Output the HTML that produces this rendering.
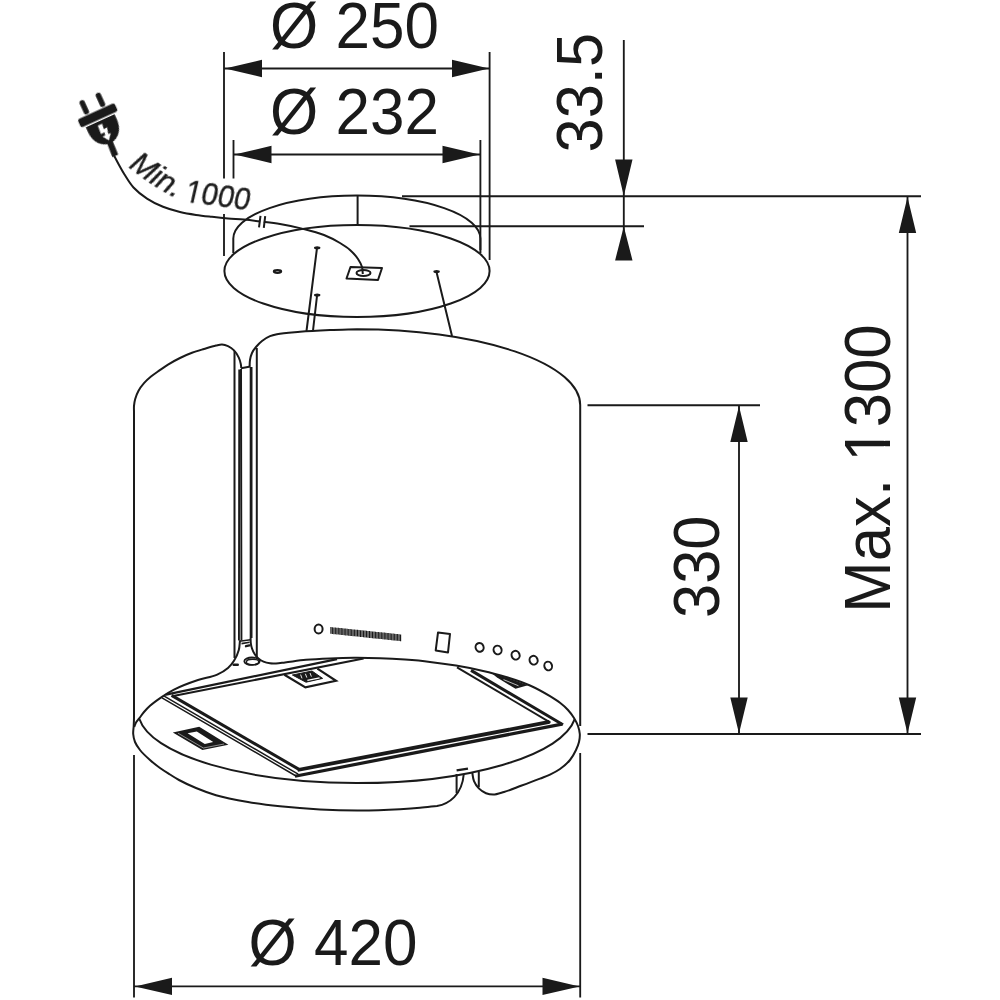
<!DOCTYPE html>
<html>
<head>
<meta charset="utf-8">
<title>Ø 420 hood dimensions</title>
<style>
html,body{margin:0;padding:0;background:#fff;}
body{width:1000px;height:1000px;overflow:hidden;}
svg{display:block;}
text{font-family:"Liberation Sans",sans-serif;fill:#1a1a1a;}
.l{fill:none;stroke:#1a1a1a;stroke-width:2;stroke-linecap:butt;stroke-linejoin:round;}
.t{fill:none;stroke:#1a1a1a;stroke-width:1.2;stroke-linecap:butt;stroke-linejoin:miter;}
.k{fill:none;stroke:#1a1a1a;stroke-width:2.6;stroke-linecap:butt;stroke-linejoin:miter;}
.d{fill:none;stroke:#1a1a1a;stroke-width:1.85;}
.a{fill:#1a1a1a;stroke:none;}
.big{font-size:62px;}
.min{font-size:28.5px;font-style:italic;stroke:#1a1a1a;stroke-width:0.35;}
.min2{font-size:28.5px;stroke:#1a1a1a;stroke-width:0.35;}
</style>
</head>
<body>
<svg width="1000" height="1000" viewBox="0 0 1000 1000">
<rect width="1000" height="1000" fill="#fff"/>

<!-- DIMENSIONS -->
<g id="dims">
<!-- Ø 250 -->
<text class="big" transform="translate(270 47.6) scale(1 1.04)">Ø 250</text>
<path class="d" d="M224 52V178.5M224 214V256M489.6 52V260M224 68.5H490"/>
<path class="a" d="M225 68.5L262 59.8V77.2ZM489 68.5L452 59.8V77.2Z"/>
<!-- Ø 232 -->
<text class="big" transform="translate(270 133.6) scale(1 1.04)">Ø 232</text>
<path class="d" d="M233.5 140V178.5M480.4 140V250M233 154.5H480"/>
<path class="a" d="M234.5 154.5L271.5 145.8V163.2ZM479.5 154.5L442.5 145.8V163.2Z"/>
<!-- 33.5 -->
<text class="big" transform="translate(601.7 152.4) rotate(-90) scale(0.99 1.055)">33.5</text>
<path class="d" d="M623.8 40V260M402 196.2H921M409.5 226.2H644"/>
<path class="a" d="M623.8 196L615.1 159.6H632.5ZM623.8 226.4L615.1 260.4H632.5Z"/>
<!-- Max 1300 -->
<g transform="translate(889.8 612.7) rotate(-90) scale(0.9964 1.055)"><text class="big">Max. 1300</text><path fill="#fff" d="M154.6 -5.6H167.1V1.4H154.6ZM172.65 -5.6H184.6V1.4H172.65Z"/></g>
<path class="d" d="M907.5 196V734M587.5 734H921"/>
<path class="a" d="M907.5 197L898.8 233H916.2ZM907.5 733.5L898.8 697.5H916.2Z"/>
<!-- 330 -->
<text class="big" transform="translate(719.4 617.9) rotate(-90) scale(0.99 1.055)">330</text>
<path class="d" d="M739 405V734M587.5 405.2H760"/>
<path class="a" d="M739 406L730.3 442H747.7ZM739 733.5L730.3 697.5H747.7Z"/>
<!-- Ø 420 -->
<text class="big" transform="translate(248.5 964.6) scale(1 1.04)">Ø 420</text>
<path class="d" d="M134 755V997.5M580.2 753V997.5M134 986.4H580"/>
<path class="a" d="M135 986.4L172 977.8V995ZM579.5 986.4L542.5 977.8V995Z"/>
</g>

<!-- CANOPY -->
<g id="canopy">
<ellipse class="l" cx="357" cy="271" rx="132.6" ry="46"/>
<path class="l" d="M233.3 253V238.5A123.55 43 0 0 1 480.4 238.5V253"/>
<path class="l" d="M357.6 195.6V226"/>
<ellipse class="l" cx="277.5" cy="271.5" rx="3.6" ry="1.3" style="stroke-width:2.2"/>
<ellipse class="a" cx="317.2" cy="247.8" rx="3.2" ry="1.5"/><ellipse class="a" cx="317.2" cy="295" rx="3.2" ry="1.5"/><ellipse class="a" cx="436.6" cy="271.4" rx="3.2" ry="1.5"/>
<path class="l" d="M317 248L306.5 331M317 296L313 330.5M436.5 272L452 336"/>
<path class="l" d="M350.5 267L382 268L378 280L346.5 278.5Z"/>
<ellipse class="l" cx="363.5" cy="273" rx="7" ry="3"/>
</g>

<!-- CABLE -->
<g id="cable">
<path class="l" d="M113.50 154.50C115.17 157.67 116.76 160.82 118.50 164.00C120.41 167.48 122.30 170.98 124.50 174.50C127.19 178.80 129.93 183.60 133.50 187.50C137.34 191.70 142.14 195.41 147.00 198.60C151.96 201.86 157.48 204.56 163.00 206.80C168.48 209.02 174.31 210.63 180.00 212.00C185.32 213.28 190.65 214.10 196.00 214.90C201.32 215.70 206.66 216.22 212.00 216.80C217.33 217.38 222.66 217.93 228.00 218.40C233.33 218.87 238.60 219.10 244.00 219.60C249.92 220.15 256.01 220.87 262.00 221.60C268.01 222.33 273.89 222.97 280.00 224.00C287.18 225.21 294.72 226.78 302.00 228.60C309.39 230.44 317.16 232.28 324.00 235.00C329.68 237.26 335.18 240.08 340.00 243.00C343.62 245.19 346.99 247.32 350.00 250.00C352.98 252.66 355.89 255.82 358.00 259.00C359.69 261.55 361.22 264.27 362.00 267.00C362.65 269.29 362.53 271.67 362.80 274.00"/>
<path stroke="#fff" stroke-width="3.4" fill="none" d="M260.2 221.2L263.8 221.9"/>
<path class="l" d="M260.5 215.8L259 227.4M265.2 216.2L263.8 227.8"/>
<path id="mp" fill="none" stroke="none" d="M0 0Q24 2.2 48 0L72 -2.2"/>
<text class="min" style="will-change:transform" transform="translate(128.2 166.8) rotate(34) scale(1.07 1.08)"><textPath href="#mp">Min.</textPath></text>
<g transform="translate(183.5 201.4) rotate(8) skewX(-5) scale(1.03 1.07)" style="will-change:transform"><text class="min2">1000</text><path fill="#fff" d="M0.8 -3H7V1.4H0.8ZM9.85 -3H15.6V1.4H9.85Z"/></g>
<g transform="translate(97.7 115.3) rotate(-24.5)">
<rect class="a" x="-20.2" y="-4.4" width="40.4" height="8.8" rx="2.2"/>
<rect class="a" x="-11.6" y="-20.6" width="5.4" height="15.2" rx="2.7"/>
<rect class="a" x="6.2" y="-20.6" width="5.4" height="15.2" rx="2.7"/>
<path class="a" d="M-15.8 5.9H15.8V11C15.8 22.5 9.5 30.5 0 30.5C-9.5 30.5-15.8 22.5-15.8 11Z"/>
<path class="a" d="M-3 28H3L2.4 44.3H-4Z"/>
<path fill="#fff" d="M-4.2 9.6H0.6L-0.2 15.2L3.6 14.8L1.8 21.4H4.6L-0.2 27.6L-4.4 21.4H-1.6L-0.8 18.2L-4.8 18.6Z"/>
</g>
</g>

<!-- BODY -->
<g id="body">
<path class="l" d="M249.60 366.50C249.73 364.33 249.64 362.16 250.00 360.00C250.39 357.66 250.99 355.17 252.00 353.00C253.00 350.84 254.46 348.89 256.00 347.00C257.74 344.86 259.77 342.75 262.00 341.00C264.40 339.12 267.25 337.36 270.00 336.20C272.28 335.23 274.40 334.77 277.00 334.20C283.18 332.85 292.09 332.45 300.00 331.80C309.63 331.01 320.13 330.54 330.00 330.10C339.11 329.69 348.00 329.50 357.00 329.20A223.2 75.8 0 0 1 580.2 405V726"/>
<path class="l" d="M134.00 430.00C134.00 426.67 134.00 423.24 134.00 420.00C134.00 417.26 134.00 414.58 134.00 412.00C134.00 409.87 133.82 407.88 134.00 405.80C134.19 403.55 134.57 401.26 135.20 399.00C135.94 396.33 137.02 393.54 138.40 391.00C139.90 388.25 141.90 385.60 144.00 383.20C146.10 380.80 148.51 378.67 151.00 376.60C153.66 374.39 156.64 372.42 159.50 370.40C162.31 368.42 164.99 366.46 168.00 364.60C171.73 362.29 175.93 359.99 180.00 358.00C183.93 356.07 187.94 354.32 192.00 352.80C195.94 351.33 199.99 350.20 204.00 349.00C207.99 347.80 212.36 346.38 216.00 345.60C218.12 345.15 220.02 344.51 222.00 344.60C224.02 344.69 226.11 345.34 228.00 346.20C230.14 347.18 232.28 348.66 234.00 350.40C235.95 352.37 237.63 355.10 238.80 357.60C239.76 359.66 240.38 361.97 240.80 364.00C241.08 365.38 241.13 366.67 241.30 368.00"/>
<path class="l" d="M134 428V702"/>
<path class="l" d="M134.00 700.00C134.00 703.33 134.00 706.76 134.00 710.00C134.00 712.74 134.05 715.33 134.00 718.00C133.95 720.67 133.83 723.33 133.70 726.00C133.57 728.67 132.99 731.36 133.20 734.00C133.41 736.69 133.97 739.46 135.00 742.00C136.14 744.82 138.00 747.42 140.00 750.00C142.71 753.49 146.53 756.91 150.00 760.00C153.22 762.87 156.57 765.53 160.00 768.00C163.25 770.34 166.69 772.42 170.00 774.50C173.02 776.40 175.73 778.21 179.00 780.00C184.04 782.76 190.14 785.56 196.00 788.00C202.43 790.67 208.89 793.12 216.00 795.20C225.82 798.08 237.28 800.14 248.00 802.00C258.61 803.84 269.03 805.11 280.00 806.30C292.91 807.70 306.65 808.80 320.00 809.50C333.32 810.20 346.67 810.55 360.00 810.50C373.33 810.45 388.01 809.85 400.00 809.20C407.14 808.81 413.48 808.40 420.00 807.80C425.79 807.27 431.33 806.53 437.00 805.90C449 804 462 795 463.8 774"/>
<path class="l" d="M139.4 719A219 72 0 0 0 574.6 719.4"/>
<path class="l" d="M134.20 727.00C134.80 725.50 135.20 723.90 136.00 722.50C136.84 721.02 138.09 719.84 139.20 718.40C140.73 716.41 142.26 714.05 144.00 712.00C145.84 709.84 147.74 707.83 150.00 705.80C153.41 702.72 157.89 699.56 162.00 696.80C165.90 694.18 169.59 691.85 174.00 689.60C180.98 686.03 190.12 682.64 198.00 680.00C204.48 677.82 211.58 677.16 217.20 674.60C221.19 672.78 225.01 670.65 228.00 668.00C230.39 665.89 232.30 663.49 234.00 660.80C236.02 657.60 237.81 653.66 238.80 650.00C239.65 646.85 239.60 643.60 240.00 640.40"/>
<path class="l" d="M256.8 348V657.5"/>
<path class="l" d="M250.60 638.00C250.67 639.67 250.59 641.33 250.80 643.00C251.03 644.83 251.40 646.72 252.00 648.50C252.64 650.39 253.51 652.33 254.60 654.00C255.66 655.62 256.94 657.14 258.40 658.40C259.90 659.69 261.66 660.79 263.50 661.60C265.50 662.47 267.83 663.01 270.00 663.30C272.00 663.57 273.91 663.48 276.00 663.40C278.84 663.29 281.76 662.78 285.00 662.40C291.13 661.69 298.87 660.46 306.00 659.80C313.84 659.08 322.00 658.73 330.00 658.40C338.00 658.07 345.92 657.84 354.00 657.80C362.58 657.76 371.38 657.89 380.00 658.20C388.38 658.50 396.67 658.98 405.00 659.60C413.34 660.22 421.64 660.92 430.00 661.90C438.64 662.91 447.36 664.14 456.00 665.60C464.70 667.07 473.47 668.74 482.00 670.70C490.12 672.57 498.08 674.56 506.00 677.00C514.08 679.48 522.38 682.12 530.00 685.50C536.99 688.60 544.13 692.64 550.00 696.20C553.64 698.40 556.90 700.39 560.00 702.80C562.86 705.02 565.62 707.39 568.00 710.00C570.25 712.47 572.29 715.21 574.00 718.00C575.58 720.56 577.02 723.24 578.00 726.00C578.91 728.59 579.64 731.31 579.80 734.00C579.96 736.65 579.60 739.39 579.00 742.00C578.37 744.73 577.26 747.35 576.00 750.00C574.41 753.35 572.47 756.97 570.00 760.00C567.25 763.37 563.56 766.47 560.00 769.00C556.84 771.24 553.41 772.97 550.00 774.60C546.74 776.15 543.56 777.21 540.00 778.60C534.26 780.84 527.25 783.48 521.00 785.80C515.27 787.93 509.39 790.42 504.00 792.00C500.26 793.10 496.61 794.60 493.20 794.60C490.70 794.60 488.27 794.11 486.00 793.20C483.43 792.17 480.80 790.40 478.80 788.40C476.80 786.40 475.10 783.83 474.00 781.20C472.85 778.45 472.80 775.20 472.20 772.20"/>
<!-- hinge slot -->
<path class="l" d="M234.5 351V658"/>
<path class="t" d="M239.25 369.5L238.95 640.5M241.05 369L241.45 640.5" style="stroke-width:1.9"/>
<path class="k" d="M251.1 367V638" style="stroke-width:2.8"/>
<path class="k" d="M241 368.3L250.5 366.6" style="stroke-width:2"/>
<path class="t" d="M239.5 641.3L250.5 639.8M241.5 643.6L249.6 642.2" style="stroke-width:1.6"/>
<path class="l" d="M246 646.2L249.4 645.4M233.6 664.8H237.8" style="stroke-width:2.4;stroke-linecap:round"/>
<ellipse class="l" cx="252" cy="661.2" rx="7.7" ry="3.7" style="stroke-width:1.8"/>
<ellipse class="l" cx="252.6" cy="662" rx="6.2" ry="2.7" style="stroke-width:1.4"/>
<!-- notch -->
<path class="l" d="M456.6 774V793M478.8 771.6V787.2"/>
<path class="k" d="M456.6 770.4L468 768.6" style="stroke-width:2.4"/>
</g>

<!-- FILTER -->
<g id="filter">
<path class="t" style="stroke-width:2.2" d="M166 694.6L337 659.2"/>
<path class="t" style="stroke-width:2" d="M172 696.2L363.6 658.6"/>
<!-- inner frame -->
<path class="k" style="stroke-width:3" d="M171.6 695.4L299 769.4"/>
<path class="k" style="stroke-width:3.8" d="M297.6 770L549.5 721.9"/>
<path class="t" style="stroke-width:1.9" d="M550.5 722.6L457 667.4"/>
<!-- outer frame -->
<path class="t" style="stroke-width:1.5" d="M162 697.8L296 776M164.2 696.2L298.2 774.2"/>
<path class="k" style="stroke-width:3.2" d="M295 776.2L562 724.1"/>
<path class="k" style="stroke-width:3" d="M563 724.8L471 670.4"/>
<!-- lamp grill -->
<path class="l" style="stroke-width:2.2;stroke-linejoin:miter" d="M284.4 674.8L305.4 687.4L336 680.8L317.4 668.6"/>
<path class="k" style="stroke-width:1;fill:#1a1a1a;stroke-linejoin:round" d="M292.4 675L312 671L322.6 678.4L306 682.2Z"/>
<path fill="none" stroke="#fff" stroke-width="0.9" d="M300.6 674.6L302 678.4M305.4 673.8L306.8 677.6M310 673L311.4 676.6"/><path fill="none" stroke="#fff" stroke-width="1.3" d="M307.4 680.4L319.6 677.8"/>
<!-- handle -->
<path class="a" stroke="#1a1a1a" stroke-width="1.8" stroke-linejoin="round" fill-rule="evenodd" d="M172.8 732.4L199.2 726.8L228.4 744.8L202.4 750ZM187.6 733.2L196.8 731.6L213.2 742L204.8 744Z"/>
<path fill="none" stroke="#fff" stroke-width="0.5" d="M178 733.2L203.4 748L224 744"/>
<!-- second grill wedge -->
<path class="a" d="M492 673.6C505 677 517 681 528 685.2L515.5 688.8L497 677.6Z"/>
<path fill="none" stroke="#fff" stroke-width="0.7" d="M503.5 679.6L518.5 685.8"/>
</g>

<!-- CONTROLS -->
<g id="controls">
<ellipse class="l" cx="318.6" cy="629" rx="4" ry="4.5"/>
<path class="l" d="M438 632.6L450 634L448 652.4L435.7 650.4Z"/>
<ellipse class="l" cx="479.6" cy="647.4" rx="4" ry="4.4" transform="rotate(-20 479.6 647.4)"/>
<ellipse class="l" cx="497.6" cy="650" rx="4" ry="4.4" transform="rotate(-20 497.6 650)"/>
<ellipse class="l" cx="515.6" cy="655.2" rx="4" ry="4.4" transform="rotate(-20 515.6 655.2)"/>
<ellipse class="l" cx="533.6" cy="660.2" rx="4" ry="4.4" transform="rotate(-20 533.6 660.2)"/>
<ellipse class="l" cx="548.2" cy="666" rx="3.8" ry="4.4" transform="rotate(-20 548.2 666)"/>
<path class="t" style="stroke-width:1.15" d="M330.90 627.0v6.8M332.38 627.2v6.8M333.87 627.4v6.8M335.35 627.5v6.8M336.83 627.7v6.8M338.31 627.8v6.8M339.80 628.0v6.8M341.28 628.1v6.8M342.76 628.3v6.8M344.25 628.4v6.8M345.73 628.6v6.8M347.21 628.8v6.8M348.70 628.9v6.8M350.18 629.1v6.8M351.66 629.2v6.8M353.14 629.4v6.8M354.63 629.5v6.8M356.11 629.7v6.8M357.59 629.8v6.8M359.08 630.0v6.8M360.56 630.2v6.8M362.04 630.3v6.8M363.53 630.5v6.8M365.01 630.6v6.8M366.49 630.8v6.8M367.97 630.9v6.8M369.46 631.1v6.8M370.94 631.2v6.8M372.42 631.4v6.8M373.91 631.6v6.8M375.39 631.7v6.8M376.87 631.9v6.8M378.36 632.0v6.8M379.84 632.2v6.8M381.32 632.3v6.8M382.80 632.5v6.8M384.29 632.6v6.8M385.77 632.8v6.8M387.25 633.0v6.8M388.74 633.1v6.8M390.22 633.3v6.8M391.70 633.4v6.8M393.19 633.6v6.8M394.67 633.7v6.8M396.15 633.9v6.8M397.63 634.0v6.8M399.12 634.2v6.8M400.60 634.4v6.8"/>
</g>
</svg>
</body>
</html>
